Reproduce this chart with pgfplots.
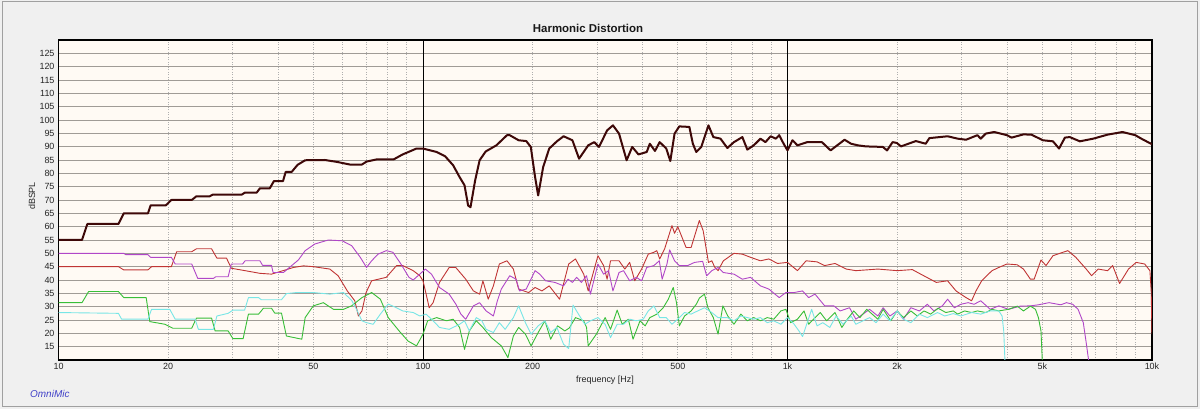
\documentclass[border=0pt]{standalone}
\usepackage{pgfplots}
\pgfplotsset{compat=1.18}
\usepackage{fontspec}
\setmainfont{Liberation Sans}
\definecolor{outerbg}{RGB}{240,240,240}
\definecolor{plotbg}{RGB}{255,250,244}
\definecolor{hgrid}{RGB}{160,155,150}
\definecolor{vgrid}{RGB}{175,175,175}
\definecolor{fund}{RGB}{62,8,8}
\definecolor{htwo}{RGB}{192,52,52}
\definecolor{hthree}{RGB}{176,70,200}
\definecolor{hfour}{RGB}{56,190,56}
\definecolor{hfive}{RGB}{120,230,230}
\definecolor{omni}{RGB}{64,64,200}
\begin{document}
\begin{tikzpicture}
\useasboundingbox (0,0) rectangle (1200bp,409bp);
\fill[outerbg] (0,0) rectangle (1200bp,409bp);
\draw[color={rgb,255:red,160;green,160;blue,160}, line width=1bp] (2bp,2.5bp) rectangle (1197.5bp,407bp);
\begin{axis}[
  at={(58.5bp,49bp)}, anchor=south west,
  scale only axis, width=1093.5bp, height=320bp,
  xmode=log, xmin=10, xmax=10000, ymin=10, ymax=130,
  axis background/.style={fill=plotbg},
  axis line style={black, line width=1.4bp},
  xtick={10,20,50,100,200,500,1000,2000,5000,10000},
  xticklabels={10,20,50,100,200,500,1k,2k,5k,10k},
  minor xtick={20,30,40,50,60,70,80,90,200,300,400,500,600,700,800,900,2000,3000,4000,5000,6000,7000,8000,9000},
  xminorgrids=true,
  minor grid style={vgrid, line width=0.6bp, dash pattern=on 1bp off 1.5bp},
  extra x ticks={100,1000}, extra x tick labels={},
  extra x tick style={grid=major, major grid style={black, line width=0.9bp}},
  ytick={15,20,...,125},
  ymajorgrids=true,
  major grid style={hgrid, line width=0.9bp},
  major tick length=0pt, minor tick length=0pt,
  tick label style={font=\fontsize{9}{10}\selectfont, text=black!85},
  /pgf/number format/assume math mode=true,
  xticklabel style={yshift=0.5bp},
  yticklabel style={xshift=-0.5bp},
]
% fundamental
\addplot[fund, line width=2bp, line join=round] coordinates {
(10,55)(11.6,55)(12.0,61)(14.6,61)(15.1,65)(17.6,65)(17.9,68)(19.7,68)(20.4,70)(23.2,70)(23.9,71.4)(26.0,71.4)(26.5,72.0)(31.8,72.0)(32.5,72.8)(35.0,72.8)(35.7,74.4)(38.0,74.4)(39.0,77.1)(41.3,77.1)(42.0,80.5)(43.6,80.5)(45.3,83.2)(47.5,84.9)(53.8,85)(58,84.3)(63,83.3)(68,83.3)(70,84.4)(74.5,85.2)(83,85.2)(88,87.1)(96,89.3)(100,89.3)(109,88)(115,86.4)(121,83)(126,78.6)(130,75.5)(133,67.9)(135,67.3)(139,77.3)(143,84.9)(148.6,88.2)(159,90.5)(170,94.3)(173,94.3)(183,92.4)(192,92.1)(197.6,89.9)(203,78.6)(207,71.7)(213.6,82.3)(222,89.3)(233,92)(243,93.9)(257,92.4)(268,85.5)(284,90.5)(295,91.7)(304,89.9)(320,96.1)(332,98.0)(345,94.9)(362,84.9)(375,89.9)(390,87.1)(411,88)(419,91.1)(433,88.4)(446,91.7)(465,89.3)(477,84.6)(490,94.9)(505,97.6)(538,97.4)(550,91.1)(562,88)(580,89.9)(607,98)(626,93.6)(655,93)(684,89.5)(713,91.7)(752,93.6)(776,88.9)(808,90.5)(843,93)(870,91.7)(899,93.9)(929,93)(949,94.3)(976,91.1)(1000,88.6)(1032,92.4)(1065,90.5)(1133,91.7)(1243,91.7)(1313,88.6)(1434,92.6)(1494,91.1)(1560,90.5)(1640,90.1)(1826,89.9)(1876,88.6)(1943,91.7)(1995,91.4)(2048,90.1)(2250,92.1)(2395,91.1)(2450,93.2)(2750,93.9)(2930,93)(3090,92.6)(3320,94.3)(3390,93)(3500,94.9)(3690,95.5)(4000,94.3)(4120,93.4)(4440,94.6)(4670,94.5)(5020,92.4)(5350,92)(5560,89.3)(5770,93.4)(5950,93.6)(6340,92)(6900,93)(7550,94.5)(8300,95.5)(9000,94.3)(9350,93)(10000,90.9)
};
% 2nd harmonic
\addplot[htwo, line width=0.9bp, line join=round] coordinates {
(10,45)(14.6,45)(15.1,43.8)(17.6,43.8)(18.0,45)(20.4,45)(21.1,50.6)(23.2,50.6)(23.9,51.7)(26.3,51.7)(27.2,48.2)(28.9,48.2)(29.8,44.4)(32.5,43.5)(35.7,42.5)(38.4,42.2)(41.3,43.5)(44.1,44.7)(47,45.3)(50,45.0)(55.5,44.1)(58.5,41.6)(62,35.9)(65,32.2)(66.5,26.5)(68,28.4)(69.8,35.3)(72.3,39.7)(79.3,41)(84.6,45.4)(88,45.4)(94,43.5)(98,41.6)(100,39.7)(102,34.7)(104,29.6)(106.6,31.5)(111,39.1)(118,44.7)(123,44.7)(131,40.3)(137.5,35.9)(143,34.7)(146,39.7)(151,32.8)(156,37.8)(162,46)(170,47.2)(177,44.1)(183,36.6)(189,35.9)(195,35.3)(203,37.2)(212,35.9)(222,37.8)(237,32.8)(251,46)(262,47.9)(276,42.2)(284,35.9)(302,49.1)(313,45.4)(320,40.3)(327,47.2)(345,47.2)(358,44.1)(369,46.6)(381,39.7)(398,44.1)(415,49.7)(430,50.4)(438,51)(446,47.9)(460,51.6)(482,60.4)(490,57.5)(500,60)(527,52.2)(544,52.2)(573,62.3)(587,58.5)(607,46.6)(620,47.2)(632,44.7)(645,43.5)(667,47.2)(713,50)(752,49.7)(792,48.5)(843,47.2)(889,47.9)(939,46.2)(1000,46.6)(1065,43.5)(1125,47.2)(1205,46.8)(1265,45.4)(1350,46.2)(1450,44.1)(1540,43.5)(1770,44.1)(2000,43.5)(2200,43.9)(2320,42.2)(2560,39.1)(2750,39.7)(2900,35.9)(3090,33.4)(3200,32.2)(3290,35.9)(3410,39.7)(3640,43.5)(3800,44.7)(4000,46)(4270,45.7)(4440,44.1)(4640,40.3)(4750,40.3)(4960,47.5)(5120,45.4)(5350,49.1)(5700,50.4)(5880,51)(6180,48.5)(6600,44.1)(6830,41.6)(7120,44.1)(7550,43.5)(7800,45.4)(8150,38.7)(8620,44.1)(9050,46.6)(9550,46)(9870,43.5)(9950,35.9)(10000,19.7)
};
% 3rd harmonic
\addplot[hthree, line width=0.9bp, line join=round] coordinates {
(10,50)(15.1,50)(15.3,49.5)(17.6,49.5)(17.9,48.5)(20.4,48.5)(20.9,46)(23.2,46)(24.1,40.6)(26.6,40.6)(27.0,41.2)(29.2,41.2)(29.8,46)(32.0,46)(32.5,47.2)(35.7,47.2)(36.3,45.5)(38.4,45.5)(38.8,42.8)(41.4,42.8)(45.5,47.5)(47.5,51)(50.5,53.5)(55,55)(60,54.7)(63.7,52.9)(67.3,48.5)(70,44.7)(72.3,47.2)(75.3,49.7)(79.3,51)(82.7,50.4)(87,46)(91.5,41)(94,40)(98,42.2)(101.5,44.1)(105.5,42.2)(111,37.2)(118,34.7)(123,31)(127,27.2)(131,25.3)(137.5,30.3)(143,31.5)(149,28.4)(156,26.5)(160,32.2)(164,36.6)(173,41.6)(180,40.3)(184,35.9)(192,36.6)(203,43.5)(209,42.2)(217,39.7)(230,39.1)(243,37.8)(250,40.3)(257,39.1)(264,41)(272,39.1)(281,41.6)(288,34.7)(302,46)(313,42.2)(323,43.5)(332,35.9)(345,42.8)(355,43.5)(369,39.7)(385,41)(398,39.7)(411,44.7)(430,45.4)(445,47.2)(453,40.3)(467,46)(475,51.3)(490,47.2)(505,45.4)(532,45.4)(556,46.6)(585,47)(600,41.6)(620,43.5)(645,44.7)(667,42.8)(713,42.2)(752,40.3)(792,41)(843,37.8)(889,36.6)(949,33.4)(990,35.3)(1043,35.3)(1100,35.9)(1143,33.4)(1190,34.7)(1265,30.3)(1340,30.3)(1395,28.4)(1480,29.6)(1540,25.3)(1680,29)(1770,26.5)(1830,29.6)(1910,26.5)(2000,28.4)(2080,25.3)(2180,29.6)(2300,28.4)(2420,30.9)(2520,28.4)(2660,30.3)(2750,32.8)(2870,29.6)(2990,30.9)(3130,31.5)(3250,30.9)(3390,32.2)(3600,29)(3800,30.3)(4040,29)(4350,30.2)(4640,30.3)(4880,30.7)(5220,31.5)(5620,30.7)(5830,31.5)(6060,30.9)(6270,29)(6480,24)(6600,16.5)(6700,10)
};
% 4th harmonic
\addplot[hfour, line width=0.9bp, line join=round] coordinates {
(10,31.5)(11.6,31.5)(12.1,35.7)(14.6,35.7)(15.1,33.4)(17.4,33.4)(17.8,24.4)(19.6,23.4)(20.6,21.9)(23.2,21.9)(23.9,25.7)(26.3,25.7)(26.9,20.9)(29.2,20.9)(30.1,18)(32.1,18)(33.2,27.2)(35.4,27.2)(36.5,29.4)(38.4,29.4)(39.2,27.6)(40.9,27.6)(42.2,19)(46.5,17.8)(47.5,25.9)(50,30.3)(53.3,31.5)(56.8,29)(60.5,29)(63.7,30.3)(68,33.4)(72.3,35.3)(76.4,32.8)(80.3,25.9)(86,20.9)(91,17.1)(96,15.3)(100,19.7)(103,24.7)(109,25.9)(116,24.7)(121,25.3)(126,22.2)(130,14)(134,20.9)(140,24.7)(146,22.2)(154,18.4)(164,15.3)(171,10.9)(177,19)(183,22.2)(191,19.7)(198,15.3)(207,20.3)(216,24.7)(224,17.8)(234,22.8)(245,20.9)(252,22)(262,25.9)(276,24.7)(281,22.2)(284,15.3)(299,19.7)(316,25.9)(327,21.5)(341,28.7)(352,23.4)(366,25.3)(377,17.8)(394,24.7)(407,22.8)(419,25.9)(438,27.2)(456,29.6)(471,32.8)(486,37.2)(496,31.5)(505,22.8)(522,26.5)(544,28.4)(562,30.9)(573,33.2)(592,34.7)(605,29.6)(626,25.9)(645,19.7)(665,30.3)(686,26.5)(713,23.4)(745,27.2)(776,24.7)(808,25.9)(843,24.7)(880,25.9)(917,25.3)(959,28.4)(990,29)(1020,24)(1065,25.3)(1110,28.4)(1143,23.4)(1190,25.9)(1230,27.8)(1280,24.7)(1350,27.8)(1410,22.2)(1460,25.3)(1520,28.4)(1580,25.9)(1650,29)(1770,25.3)(1830,29)(1920,24.7)(2000,28.4)(2080,25.9)(2180,28.4)(2270,26.5)(2370,28.4)(2470,27.2)(2590,29.4)(2720,27.8)(2850,28.4)(2930,27.2)(3060,28.4)(3200,27.8)(3320,28.4)(3500,27.8)(3640,29)(3800,28.4)(4040,29)(4270,30.2)(4440,28.4)(4640,30.2)(4790,29)(4880,25.9)(4960,20.9)(5000,10)
};
% 5th harmonic
\addplot[hfive, line width=0.9bp, line join=round] coordinates {
(10,27.8)(14.6,27.5)(14.9,25.3)(17.6,25.3)(18.0,29)(20.2,29)(20.9,25.3)(23.7,25.3)(24.2,21.5)(26.6,21.5)(27.2,26.5)(29.2,27.5)(30.1,28.7)(32.4,28.7)(33.2,33.4)(35.4,33.4)(36.0,32.6)(40.9,32.6)(42.2,34.9)(45,35.3)(50,35.3)(55.5,34.7)(60.5,35.3)(63.7,32.4)(65.7,29)(68,24.7)(70,24)(73,23.4)(76.4,27.2)(80.3,31)(83.6,29.9)(88,28.4)(94,27.8)(98,26.5)(102,27.2)(106.6,24.7)(111,22.2)(118,21.5)(126,23.4)(130,24.7)(134,20.9)(140,25.9)(145,24.7)(149,21.5)(156,20.3)(162,24)(168,21.5)(177,25.9)(183,30.3)(191,24)(198,19.7)(207,22.8)(216,24.7)(224,20.3)(233,22.2)(243,15.9)(251,14.3)(258,30.6)(267,27.2)(278,23.4)(288,24.7)(302,25.9)(316,23.4)(327,18.4)(341,23.4)(355,23.4)(369,25.3)(385,24.7)(402,25.3)(415,28.4)(430,30.3)(446,25.9)(465,25.9)(482,23.4)(500,25.3)(522,27.8)(544,27.2)(567,28.4)(592,29.6)(620,27.8)(645,25.9)(684,25.9)(713,24.7)(745,26.5)(776,25.9)(808,25.3)(843,25.9)(880,24)(917,24.7)(959,23.4)(1000,25.9)(1043,23.4)(1075,20.9)(1100,18.8)(1165,29)(1205,22.8)(1250,24)(1306,22.2)(1360,26.5)(1420,23.4)(1495,26.5)(1540,23.4)(1680,25.9)(1750,24)(1830,27.2)(1910,24.7)(2000,28.4)(2080,25.3)(2180,24)(2300,27.2)(2420,25.9)(2580,27.8)(2700,26.5)(2850,27.4)(2990,26.5)(3200,27.8)(3390,27.2)(3600,28.4)(3800,28.4)(3880,26.5)(3920,20.9)(3950,10)
};
\end{axis}
\node[font=\fontsize{11.5}{13}\selectfont\bfseries, text=black!90] at (588bp,380.7bp) {Harmonic Distortion};
\node[font=\fontsize{9}{10}\selectfont, text=black!85] at (605bp,29bp) {frequency [Hz]};
\node[font=\fontsize{9}{10}\selectfont, text=black!85, rotate=90] at (32bp,213bp) {dBSPL};
\node[font=\fontsize{10}{11}\selectfont\itshape, text=omni, anchor=west, inner sep=0pt] at (30bp,15bp) {OmniMic};
\end{tikzpicture}
\end{document}
